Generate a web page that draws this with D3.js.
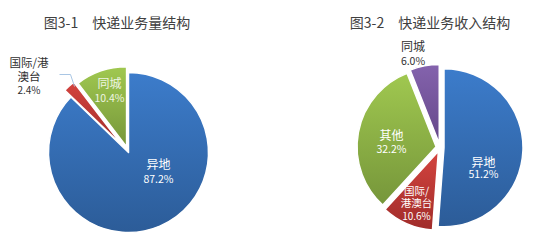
<!DOCTYPE html>
<html>
<head>
<meta charset="utf-8">
<script src="https://cdn.jsdelivr.net/npm/d3@7"></script>
<style>
  html, body { margin: 0; padding: 0; background: #fff; }
  svg { display: block; font-family: "Noto Sans CJK SC", "Noto Sans", sans-serif; }
</style>
</head>
<body>
<svg id="chart" width="554" height="241"></svg>
<script>
// 快递业务量结构 (%)
const volumeCategories = ["异地", "国际/港澳台", "同城"];
const volumeValues = [87.2, 2.4, 10.4];

// 快递业务收入结构 (%)
const incomeCategories = ["异地", "国际/港澳台", "其他", "同城"];
const incomeValues = [51.2, 10.6, 32.2, 6.0];

const titles = ["图3-1\u3000快递业务量结构", "图3-2\u3000快递业务收入结构"];

const svg = d3.select("#chart");
const defs = svg.append("defs");

// vertical shading per slice colour
const palette = {
  blue:   ["#3c7ccb", "#2c5c98"],
  red:    ["#d4443f", "#a02c2a"],
  green:  ["#a0c850", "#76963a"],
  purple: ["#8463ad", "#654789"]
};
Object.entries(palette).forEach(([name, [c0, c1]]) => {
  const g = defs.append("linearGradient")
    .attr("id", "grad-" + name)
    .attr("x1", 0).attr("y1", 0).attr("x2", 0).attr("y2", 1);
  g.append("stop").attr("offset", "0%").attr("stop-color", c0);
  g.append("stop").attr("offset", "100%").attr("stop-color", c1);
});

const pie = d3.pie().sort(null).value(d => d.value).startAngle(0).endAngle(2 * Math.PI);

function drawPie(cfg) {
  const data = cfg.categories.map((c, i) => ({ name: c, value: cfg.values[i] }));
  const arcs = pie(data);
  const arc = d3.arc().innerRadius(0).outerRadius(cfg.radius);
  const g = svg.append("g").attr("transform", `translate(${cfg.cx},${cfg.cy})`);

  g.selectAll("path.slice")
    .data(arcs)
    .join("path")
    .attr("class", "slice")
    .attr("d", arc)
    .attr("transform", (d, i) => {
      const a = (d.startAngle + d.endAngle) / 2;
      const e = cfg.explode[i];
      return `translate(${e * Math.sin(a)},${-e * Math.cos(a)})`;
    })
    .attr("fill", (d, i) => `url(#grad-${cfg.colors[i]})`)
    .attr("stroke", "#fff")
    .attr("stroke-width", 1.5)
    .attr("stroke-linejoin", "round");

  // leader lines for labels placed outside
  (cfg.leaders || []).forEach(pts => {
    g.append("path")
      .attr("d", d3.line()(pts))
      .attr("fill", "none")
      .attr("stroke", "#a9c6e4")
      .attr("stroke-width", 1);
  });

  // data labels: category name lines + percentage
  arcs.forEach((d, i) => {
    const lab = cfg.labels[i];
    const lines = lab.lines;
    const fs = lab.fs || 12;
    const t = g.append("text")
      .attr("text-anchor", "middle")
      .attr("fill", lab.color);
    lines.forEach((ln, k) => {
      t.append("tspan")
        .attr("x", lab.x)
        .attr("y", lab.y + k * lab.lh)
        .attr("dominant-baseline", "central")
        .attr("font-size", fs + "px")
        .text(ln);
    });
    t.append("tspan")
      .attr("x", lab.x)
      .attr("y", lab.y + lines.length * lab.lh)
      .attr("dominant-baseline", "central")
      .attr("font-size", (lab.pfs || 10.5) + "px")
      .text(d3.format(".1f")(d.data.value) + "%");
  });

  svg.append("text")
    .attr("x", cfg.titleX)
    .attr("y", 22)
    .attr("text-anchor", "middle")
    .attr("dominant-baseline", "central")
    .attr("font-size", "14px")
    .attr("fill", "#404040")
    .text(cfg.title);
}

drawPie({
  categories: volumeCategories,
  values: volumeValues,
  title: titles[0],
  titleX: 117,
  cx: 128.5, cy: 152.5, radius: 80,
  explode: [0, 9, 6],
  colors: ["blue", "red", "green"],
  leaders: [[[-69, -78], [-58, -78], [-54, -66]]],
  labels: [
    { lines: ["异地"], x: 30, y: 11, lh: 14.5, color: "#ffffff" },
    { lines: ["国际/港", "澳台"], x: -99.5, y: -90.5, lh: 13.5, fs: 11.5, pfs: 10, color: "#303030" },
    { lines: ["同城"], x: -19, y: -70.5, lh: 15.5, color: "#eef5e2" }
  ]
});

drawPie({
  categories: incomeCategories,
  values: incomeValues,
  title: titles[1],
  titleX: 430,
  cx: 440, cy: 147.5, radius: 79,
  explode: [4, 4, 4, 4],
  colors: ["blue", "red", "green", "purple"],
  labels: [
    { lines: ["异地"], x: 43.5, y: 13.5, lh: 12.5, color: "#ffffff" },
    { lines: ["国际/", "港澳台"], x: -23.5, y: 42.5, lh: 12.5, fs: 10.5, pfs: 10, color: "#ffffff" },
    { lines: ["其他"], x: -48.5, y: -13.5, lh: 14, color: "#ffffff" },
    { lines: ["同城"], x: -27, y: -102.5, lh: 15, color: "#303030" }
  ]
});
</script>
</body>
</html>
